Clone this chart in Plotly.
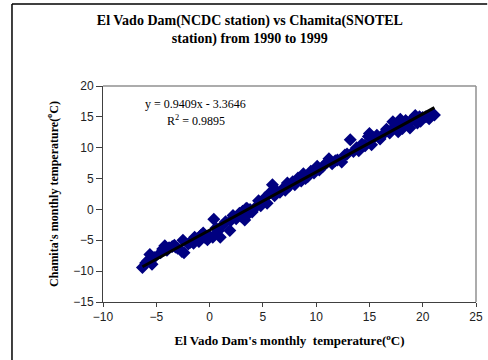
import plotly.graph_objects as go

# El Vado Dam monthly temperature (x) vs Chamita monthly temperature (y), 1990-1999
elvado_temp = [
    -6.3, -6.0, -5.8, -5.6, -5.4, -5.2, -4.4, -4.2, -4.0, -3.8,
    -3.5, -3.3, -3.0, -2.6, -2.5, -2.4, -2.0, -1.8, -1.5, -1.2,
    -1.0, -0.8, -0.6, -0.4, -0.2, 0.0, 0.3, 0.4, 0.8, 1.0,
    1.2, 1.5, 1.9, 2.0, 2.5, 2.8, 3.0, 3.1, 3.3, 3.5,
    3.6, 3.8, 4.0, 4.3, 4.6, 4.8, 5.2, 5.4, 5.6, 5.9,
    6.1, 6.6, 6.9, 7.3, 7.5, 7.8, 8.0, 8.3, 8.6, 8.8,
    9.2, 9.5, 9.8, 10.1, 10.3, 10.6, 11.0, 11.2, 11.5, 12.0,
    12.4, 12.7, 13.2, 13.5, 13.8, 14.0, 14.3, 14.6, 14.9, 15.0,
    15.2, 15.4, 15.7, 16.0, 16.3, 16.6, 16.9, 17.2, 17.5, 17.7,
    17.9, 18.1, 18.3, 18.6, 18.8, 19.0, 19.3, 19.5, 19.8, 20.0,
    20.3, 20.6, 20.9, 21.1, -4.6, -1.4, 0.6, 3.4, 5.0, 7.1,
    9.0, 11.8, 14.5, 17.0, 18.4, 19.7, -3.2, 2.2, 6.3, 12.9,
]
chamita_temp = [
    -9.4, -8.7, -8.3, -7.3, -8.9, -7.8, -6.4, -5.9, -6.6, -6.2,
    -6.0, -5.8, -6.3, -6.8, -5.0, -7.0, -5.6, -5.3, -5.5, -4.8,
    -5.2, -4.2, -3.8, -4.6, -4.9, -4.3, -4.5, -1.6, -3.5, -4.5,
    -2.6, -2.0, -3.4, -1.8, -1.5, -0.6, -1.2, -0.3, -1.7, 0.2,
    -0.8, 0.0, -0.4, 0.3, 1.4, 0.6, 1.9, 1.0, 2.6, 4.0,
    2.2, 2.8, 3.4, 4.3, 3.8, 4.5, 4.0, 5.1, 4.6, 5.8,
    5.3, 6.2, 5.9, 7.0, 6.4, 6.9, 7.6, 8.2, 7.4, 8.0,
    7.7, 8.8, 11.3, 9.4, 10.0, 9.5, 10.6, 10.3, 11.8, 12.3,
    10.5, 11.6, 12.0, 11.4, 12.2, 13.0, 12.4, 14.2, 13.5, 12.6,
    14.6, 13.1, 13.9, 14.1, 13.2, 14.6, 15.2, 14.0, 14.3, 14.9,
    15.0, 14.7, 15.5, 15.3, -7.0, -4.5, -3.0, 0.1, 1.2, 3.1,
    5.0, 7.9, 10.4, 12.8, 14.4, 15.0, -6.1, -1.0, 3.0, 9.0,
]

trend_slope = 0.9409
trend_intercept = -3.3646
equation_text = "y = 0.9409x - 3.3646"
r2_text = "R<sup>2</sup> = 0.9895"

x_ticks = [-10, -5, 0, 5, 10, 15, 20, 25]
y_ticks = [-15, -10, -5, 0, 5, 10, 15, 20]

x_lo, x_hi = min(elvado_temp), max(elvado_temp)
trend_x = [x_lo, x_hi]
trend_y = [trend_slope * v + trend_intercept for v in trend_x]

fig = go.Figure()
fig.add_trace(go.Scatter(
    x=elvado_temp, y=chamita_temp, mode="markers",
    marker=dict(symbol="diamond", size=10, color="#000080", line=dict(width=0)),
    showlegend=False, hoverinfo="skip",
))
fig.add_trace(go.Scatter(
    x=trend_x, y=trend_y, mode="lines",
    line=dict(color="black", width=3),
    showlegend=False, hoverinfo="skip",
))

serif = "Liberation Serif, Times New Roman, serif"
sans = "Liberation Sans, Arial, sans-serif"

fig.update_layout(
    template="none",
    width=488, height=360,
    margin=dict(l=103, r=12, t=86, b=58, autoexpand=False),
    paper_bgcolor="white", plot_bgcolor="white",
    title=dict(
        text="<b>El Vado Dam(NCDC station) vs Chamita(SNOTEL<br>station) from 1990 to 1999</b>",
        x=0.512, xanchor="center", y=0.93, yanchor="top",
        font=dict(family=serif, size=14, color="black"),
    ),
    xaxis=dict(
        range=[-10, 25], tickvals=x_ticks, showgrid=False, zeroline=False,
        automargin=False,
        showline=True, linecolor="#404040", linewidth=1,
        ticks="outside", ticklen=4, tickcolor="#404040",
        tickfont=dict(family=sans, size=12, color="#222"),
        title=dict(text="<b>El Vado Dam's monthly  temperature(<sup>o</sup>C)</b>",
                   font=dict(family=serif, size=13, color="black"), standoff=12),
    ),
    yaxis=dict(
        range=[-15, 20], tickvals=y_ticks, showgrid=False, zeroline=False,
        automargin=False,
        showline=True, linecolor="#404040", linewidth=1,
        ticks="outside", ticklen=6, tickcolor="#404040",
        tickfont=dict(family=sans, size=12, color="#222"),
        title=dict(text="<b>Chamita's monthly temperature(<sup>o</sup>C)</b>",
                   font=dict(family=serif, size=12, color="black"), standoff=12),
    ),
    shapes=[
        dict(type="line", xref="paper", yref="paper", x0=0, x1=1, y0=1, y1=1,
             line=dict(color="#909090", width=1.5)),
        dict(type="line", xref="paper", yref="paper", x0=1, x1=1, y0=0, y1=1,
             line=dict(color="#909090", width=1.5)),
        dict(type="line", xref="paper", yref="paper", x0=-0.244, x1=1.03,
             y0=1.38, y1=1.38, line=dict(color="black", width=1.5), layer="below"),
        dict(type="line", xref="paper", yref="paper", x0=-0.244, x1=-0.244,
             y0=-0.4, y1=1.38, line=dict(color="black", width=1.5), layer="below"),
    ],
    annotations=[
        dict(text=equation_text, xref="paper", yref="paper", x=0.249, y=0.917,
             xanchor="center", yanchor="middle", showarrow=False,
             font=dict(family=serif, size=12, color="black")),
        dict(text=r2_text, xref="paper", yref="paper", x=0.249, y=0.838,
             xanchor="center", yanchor="middle", showarrow=False,
             font=dict(family=serif, size=12, color="black")),
    ],
)

fig.write_html("out.html")
